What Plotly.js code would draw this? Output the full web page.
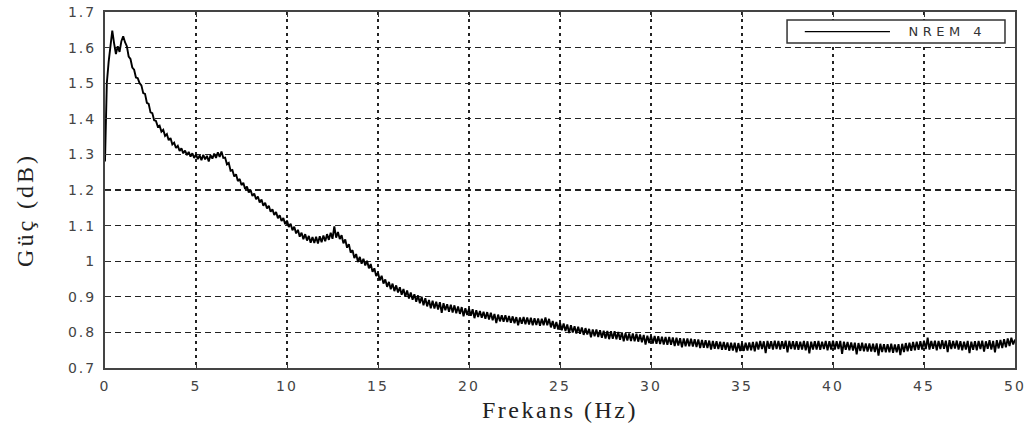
<!DOCTYPE html>
<html>
<head>
<meta charset="utf-8">
<script src="https://cdn.plot.ly/plotly-3.0.1.min.js"></script>
<style>
  html, body { margin: 0; padding: 0; background: #fff; }
  #chart { width: 1030px; height: 437px; }
  .xtick text, .ytick text { letter-spacing: 2px; }
  .g-xtitle text { letter-spacing: 2.5px; }
  .annotation[data-index="0"] .annotation-text { letter-spacing: 4.5px; }
  .annotation[data-index="1"] .annotation-text { letter-spacing: 3px; }
</style>
</head>
<body>
<div id="chart"></div>
<script>
// Frequency grid of the spectrum (Hz): 0 to 50 in 0.1 Hz bins
const freqStart = 0;
const freqStep = 0.1;

// Power (dB), ten bins per Hz (one row per Hz)
const power = [
  1.28, 1.5, 1.56, 1.615, 1.648, 1.612, 1.582, 1.604, 1.588, 1.618,
  1.632, 1.615, 1.604, 1.575, 1.568, 1.544, 1.538, 1.516, 1.514, 1.5,
  1.494, 1.472, 1.47, 1.445, 1.442, 1.418, 1.416, 1.396, 1.394, 1.378,
  1.381, 1.364, 1.369, 1.352, 1.357, 1.34, 1.346, 1.328, 1.333, 1.318,
  1.324, 1.31, 1.317, 1.303, 1.311, 1.298, 1.307, 1.294, 1.303, 1.29,
  1.3, 1.287, 1.297, 1.284, 1.299, 1.286, 1.296, 1.28, 1.298, 1.288,
  1.302, 1.29, 1.306, 1.293, 1.308, 1.29, 1.291, 1.272, 1.276, 1.254,
  1.256, 1.238, 1.244, 1.225, 1.231, 1.214, 1.22, 1.203, 1.21, 1.193,
  1.2, 1.183, 1.19, 1.174, 1.182, 1.165, 1.173, 1.156, 1.164, 1.148,
  1.156, 1.139, 1.146, 1.13, 1.138, 1.121, 1.129, 1.113, 1.121, 1.104,
  1.114, 1.096, 1.105, 1.087, 1.097, 1.078, 1.088, 1.069, 1.08, 1.062,
  1.076, 1.058, 1.071, 1.052, 1.068, 1.051, 1.069, 1.05, 1.07, 1.053,
  1.072, 1.056, 1.076, 1.06, 1.08, 1.063, 1.098, 1.066, 1.082, 1.062,
  1.073, 1.05, 1.061, 1.038, 1.048, 1.024, 1.031, 1.009, 1.02, 0.998,
  1.012, 0.993, 1.007, 0.988, 1.001, 0.98, 0.992, 0.97, 0.98, 0.958,
  0.968, 0.946, 0.959, 0.937, 0.949, 0.928, 0.942, 0.921, 0.937, 0.916,
  0.932, 0.912, 0.927, 0.906, 0.922, 0.9, 0.918, 0.895, 0.912, 0.892,
  0.907, 0.886, 0.904, 0.882, 0.9, 0.876, 0.896, 0.873, 0.891, 0.868,
  0.889, 0.867, 0.886, 0.864, 0.885, 0.855, 0.882, 0.862, 0.879, 0.858,
  0.878, 0.856, 0.876, 0.854, 0.873, 0.852, 0.871, 0.845, 0.868, 0.849,
  0.867, 0.847, 0.865, 0.84, 0.862, 0.843, 0.86, 0.841, 0.858, 0.838,
  0.857, 0.836, 0.855, 0.834, 0.852, 0.826, 0.85, 0.831, 0.848, 0.83,
  0.848, 0.829, 0.846, 0.827, 0.845, 0.826, 0.843, 0.82, 0.842, 0.824,
  0.843, 0.823, 0.842, 0.822, 0.841, 0.82, 0.84, 0.821, 0.839, 0.819,
  0.838, 0.82, 0.842, 0.82, 0.838, 0.814, 0.832, 0.81, 0.829, 0.808,
  0.827, 0.806, 0.825, 0.804, 0.822, 0.798, 0.82, 0.8, 0.817, 0.797,
  0.816, 0.796, 0.814, 0.793, 0.812, 0.794, 0.81, 0.786, 0.808, 0.789,
  0.808, 0.787, 0.806, 0.785, 0.805, 0.783, 0.804, 0.781, 0.803, 0.782,
  0.803, 0.781, 0.801, 0.779, 0.8, 0.775, 0.798, 0.777, 0.797, 0.776,
  0.797, 0.775, 0.796, 0.774, 0.794, 0.772, 0.793, 0.766, 0.791, 0.77,
  0.791, 0.769, 0.79, 0.768, 0.789, 0.767, 0.788, 0.766, 0.787, 0.765,
  0.787, 0.765, 0.786, 0.762, 0.785, 0.763, 0.784, 0.758, 0.783, 0.761,
  0.783, 0.761, 0.782, 0.76, 0.781, 0.759, 0.78, 0.756, 0.779, 0.757,
  0.778, 0.756, 0.777, 0.752, 0.776, 0.754, 0.775, 0.753, 0.774, 0.751,
  0.773, 0.751, 0.772, 0.748, 0.771, 0.749, 0.771, 0.744, 0.77, 0.748,
  0.77, 0.748, 0.771, 0.749, 0.772, 0.75, 0.773, 0.747, 0.774, 0.752,
  0.776, 0.753, 0.775, 0.742, 0.776, 0.754, 0.775, 0.752, 0.777, 0.753,
  0.776, 0.752, 0.775, 0.754, 0.777, 0.744, 0.776, 0.753, 0.775, 0.752,
  0.775, 0.751, 0.774, 0.752, 0.776, 0.75, 0.775, 0.741, 0.774, 0.752,
  0.775, 0.752, 0.776, 0.751, 0.774, 0.753, 0.776, 0.75, 0.775, 0.752,
  0.777, 0.752, 0.775, 0.753, 0.776, 0.74, 0.774, 0.751, 0.773, 0.75,
  0.772, 0.749, 0.771, 0.738, 0.77, 0.748, 0.771, 0.747, 0.769, 0.746,
  0.769, 0.746, 0.768, 0.745, 0.769, 0.735, 0.768, 0.745, 0.767, 0.744,
  0.767, 0.744, 0.768, 0.743, 0.766, 0.744, 0.767, 0.736, 0.768, 0.745,
  0.77, 0.747, 0.771, 0.748, 0.773, 0.75, 0.774, 0.751, 0.775, 0.752,
  0.777, 0.753, 0.785, 0.752, 0.776, 0.754, 0.777, 0.75, 0.776, 0.753,
  0.778, 0.754, 0.777, 0.745, 0.778, 0.753, 0.776, 0.755, 0.777, 0.752,
  0.775, 0.75, 0.774, 0.752, 0.776, 0.742, 0.774, 0.751, 0.775, 0.75,
  0.776, 0.753, 0.777, 0.746, 0.775, 0.754, 0.778, 0.752, 0.776, 0.744,
  0.778, 0.755, 0.779, 0.756, 0.781, 0.758, 0.783, 0.762, 0.785, 0.766,
  0.78
];

const freq = power.map((_, i) => +(freqStart + i * freqStep).toFixed(2));

const seriesName = "NREM 4";
const xTitle = "Frekans (Hz)";
const yTitle = "Güç (dB)";
const xTicks = [0, 5, 10, 15, 20, 25, 30, 35, 40, 45, 50];
const yTicks = [0.7, 0.8, 0.9, 1, 1.1, 1.2, 1.3, 1.4, 1.5, 1.6, 1.7];

const tickFont = { family: "DejaVu Sans", size: 14, color: "#444" };
const titleFont = { family: "Liberation Serif", size: 24, color: "#222" };

const axisCommon = {
  showline: true, linecolor: "#444", linewidth: 2, mirror: "ticks",
  ticks: "inside", ticklen: 5, tickcolor: "#333", tickwidth: 1,
  showgrid: true, gridcolor: "#222", gridwidth: 1.1,
  zeroline: false, tickfont: tickFont, ticklabelstandoff: 4
};

const trace = {
  x: freq, y: power, type: "scatter", mode: "lines",
  name: seriesName, line: { color: "#000", width: 1.9 }, showlegend: false
};

const layout = {
  width: 1030, height: 437,
  margin: { l: 105, r: 15, t: 12, b: 69 },
  paper_bgcolor: "#fff", plot_bgcolor: "#fff",
  xaxis: Object.assign({}, axisCommon, {
    range: [0, 50], tickvals: xTicks, griddash: "3px,4px",
    title: { text: xTitle, font: titleFont, standoff: 8 }
  }),
  yaxis: Object.assign({}, axisCommon, {
    range: [0.7, 1.7], tickvals: yTicks, griddash: "6px,4px"
  }),
  shapes: [
    { type: "rect", xref: "paper", yref: "paper", x0: 0.7495, x1: 0.989, y0: 0.913, y1: 0.9775,
      line: { color: "#333", width: 1.5 }, fillcolor: "#fff", layer: "above" },
    { type: "line", xref: "paper", yref: "paper", x0: 0.769, x1: 0.8626, y0: 0.945, y1: 0.945,
      line: { color: "#000", width: 1.3 }, layer: "above" }
  ],
  annotations: [
    { xref: "paper", yref: "paper", x: 0.926, y: 0.945, xanchor: "center", yanchor: "middle",
      text: seriesName, showarrow: false, font: { family: "DejaVu Sans", size: 13, color: "#333" } },
    { xref: "paper", yref: "paper", x: 0, y: 0.444, xanchor: "center", yanchor: "middle",
      xshift: -80, textangle: -90, text: yTitle, showarrow: false, font: titleFont }
  ]
};

Plotly.newPlot("chart", [trace], layout, { displayModeBar: false, staticPlot: true });
</script>
</body>
</html>
